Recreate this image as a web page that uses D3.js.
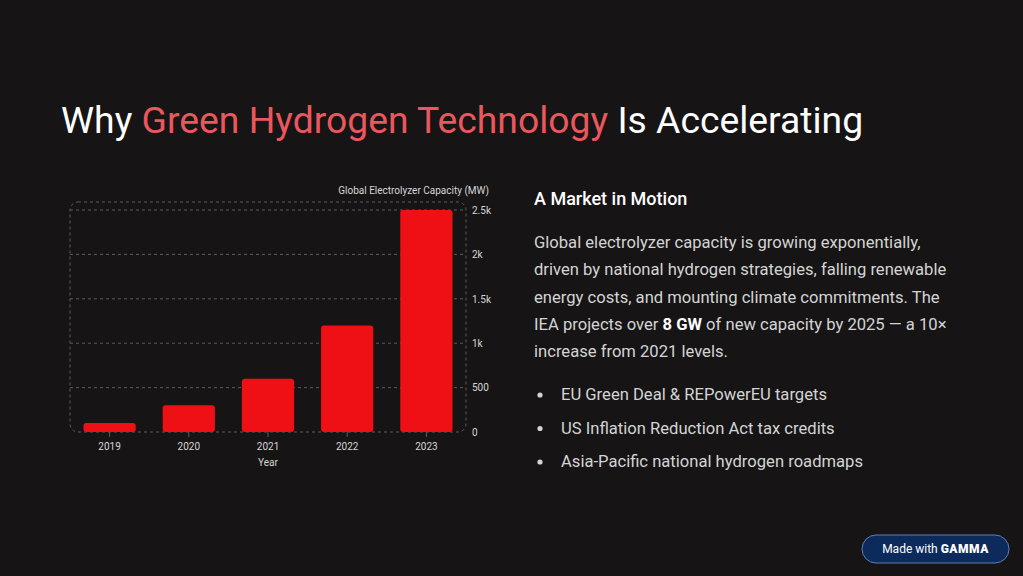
<!DOCTYPE html>
<html lang="en">
<head>
    <meta charset="UTF-8">
    <title>Green Hydrogen</title>
    <script src="https://cdn.jsdelivr.net/npm/d3@7"></script>
    <style>
        body { margin: 0; background: #161415; }
        svg { display: block; }
    </style>
</head>
<body>
    <script>
        // chart data
        var years = ['2019', '2020', '2021', '2022', '2023'];
        var capacity = [100, 300, 600, 1200, 2500];
        var yTicks = [0, 500, 1000, 1500, 2000, 2500];
        var yTickLabels = ['0', '500', '1k', '1.5k', '2k', '2.5k'];

        // right-hand text
        var paragraph = [
            [['Global electrolyzer capacity is growing exponentially,', false]],
            [['driven by national hydrogen strategies, falling renewable', false]],
            [['energy costs, and mounting climate commitments. The', false]],
            [['IEA projects over ', false], ['8 GW', true], [' of new capacity by 2025 \u2014 a 10\u00d7', false]],
            [['increase from 2021 levels.', false]]
        ];
        var bullets = [
            'EU Green Deal & REPowerEU targets',
            'US Inflation Reduction Act tax credits',
            'Asia-Pacific national hydrogen roadmaps'
        ];

        var w = 1023;
        var h = 576;
        var font = 'Roboto, "Noto Sans", sans-serif';

        var svg = d3.select('body')
                    .append('svg')
                    .attr('width', w)
                    .attr('height', h);

        svg.append('rect')
            .attr('width', w)
            .attr('height', h)
            .attr('fill', '#161415');

        //title
        var title = svg.append('text')
            .attr('x', 61)
            .attr('y', 133)
            .attr('font-family', font)
            .attr('font-size', '37.3px')
            .attr('fill', '#ffffff');
        title.append('tspan').text('Why ');
        title.append('tspan').attr('fill', '#e8585c').text('Green Hydrogen Technology');
        title.append('tspan').text(' Is Accelerating');

        //chart area (plot box edges)
        var plotL = 70, plotR = 466, plotT = 202, plotB = 432;

        var x = d3.scaleBand()
            .domain(years)
            .range([plotL, plotR])
            .paddingInner(0.34)
            .paddingOuter(0.17);

        var y = d3.scaleLinear()
            .domain([0, 2500])
            .range([plotB, 210]);

        // dashed frame
        svg.append('rect')
            .attr('x', plotL)
            .attr('y', plotT)
            .attr('width', plotR - plotL)
            .attr('height', plotB - plotT)
            .attr('rx', 8)
            .attr('fill', 'none')
            .attr('stroke', '#5e5c5d')
            .attr('stroke-dasharray', '3,3');

        // gridlines
        svg.selectAll('line.grid')
            .data(yTicks.slice(1))
            .enter()
            .append('line')
            .attr('class', 'grid')
            .attr('x1', plotL)
            .attr('x2', plotR)
            .attr('y1', function(d) { return y(d); })
            .attr('y2', function(d) { return y(d); })
            .attr('stroke', '#5e5c5d')
            .attr('stroke-dasharray', '3,3');

        //bars
        svg.selectAll('rect.bar')
            .data(capacity)
            .enter()
            .append('rect')
            .attr('class', 'bar')
            .attr('x', function(d, i) { return x(years[i]); })
            .attr('y', function(d) { return y(d); })
            .attr('width', x.bandwidth())
            .attr('height', function(d) { return y(0) - y(d); })
            .attr('rx', 3)
            .attr('fill', '#ee1014');

        // x axis
        var xAxis = svg.append('g')
            .attr('transform', 'translate(0,' + plotB + ')')
            .call(d3.axisBottom(x).tickSize(5).tickPadding(6));
        xAxis.select('.domain').remove();
        xAxis.selectAll('line').attr('stroke', '#5e5c5d');
        xAxis.selectAll('text')
            .attr('font-family', font)
            .attr('font-size', '10px')
            .attr('fill', '#d6d6d6');

        // y axis on right
        var yAxis = svg.append('g')
            .attr('transform', 'translate(' + plotR + ',0)')
            .call(d3.axisRight(y)
                .tickValues(yTicks)
                .tickFormat(function(d, i) { return yTickLabels[i]; })
                .tickSize(0)
                .tickPadding(6));
        yAxis.select('.domain').remove();
        yAxis.selectAll('text')
            .attr('font-family', font)
            .attr('font-size', '10px')
            .attr('fill', '#d6d6d6');

        svg.append('text')
            .attr('x', 489)
            .attr('y', 194)
            .attr('text-anchor', 'end')
            .attr('font-family', font)
            .attr('font-size', '10px')
            .attr('fill', '#d6d6d6')
            .text('Global Electrolyzer Capacity (MW)');

        svg.append('text')
            .attr('x', (plotL + plotR) / 2)
            .attr('y', 466)
            .attr('text-anchor', 'middle')
            .attr('font-family', font)
            .attr('font-size', '10px')
            .attr('fill', '#d6d6d6')
            .text('Year');

        //right column
        svg.append('text')
            .attr('x', 534)
            .attr('y', 205)
            .attr('font-family', font)
            .attr('font-size', '18px')
            .attr('font-weight', 500)
            .attr('fill', '#ffffff')
            .text('A Market in Motion');

        paragraph.forEach(function(line, i) {
            var t = svg.append('text')
                .attr('x', 534)
                .attr('y', 248 + i * 27.3)
                .attr('font-family', font)
                .attr('font-size', '16.6px')
                .attr('fill', '#d4d4d4');
            line.forEach(function(part) {
                t.append('tspan')
                    .attr('font-weight', part[1] ? 700 : 400)
                    .attr('fill', part[1] ? '#ffffff' : null)
                    .text(part[0]);
            });
        });

        bullets.forEach(function(b, i) {
            var by = 400 + i * 33.5;
            svg.append('circle')
                .attr('cx', 540)
                .attr('cy', by - 5)
                .attr('r', 2.6)
                .attr('fill', '#d4d4d4');
            svg.append('text')
                .attr('x', 561)
                .attr('y', by)
                .attr('font-family', font)
                .attr('font-size', '16.6px')
                .attr('fill', '#d4d4d4')
                .text(b);
        });

        // badge
        svg.append('rect')
            .attr('x', 862)
            .attr('y', 535)
            .attr('width', 147)
            .attr('height', 28)
            .attr('rx', 14)
            .attr('fill', '#0c2a5c')
            .attr('stroke', '#5d7fb8')
            .attr('stroke-width', 1);
        var badge = svg.append('text')
            .attr('x', 935.5)
            .attr('y', 553)
            .attr('text-anchor', 'middle')
            .attr('font-family', font)
            .attr('font-size', '12px')
            .attr('fill', '#ffffff');
        badge.append('tspan').text('Made with ');
        badge.append('tspan')
            .attr('font-weight', 900)
            .attr('letter-spacing', '0.5px')
            .text('GAMMA');
    </script>
</body>
</html>
